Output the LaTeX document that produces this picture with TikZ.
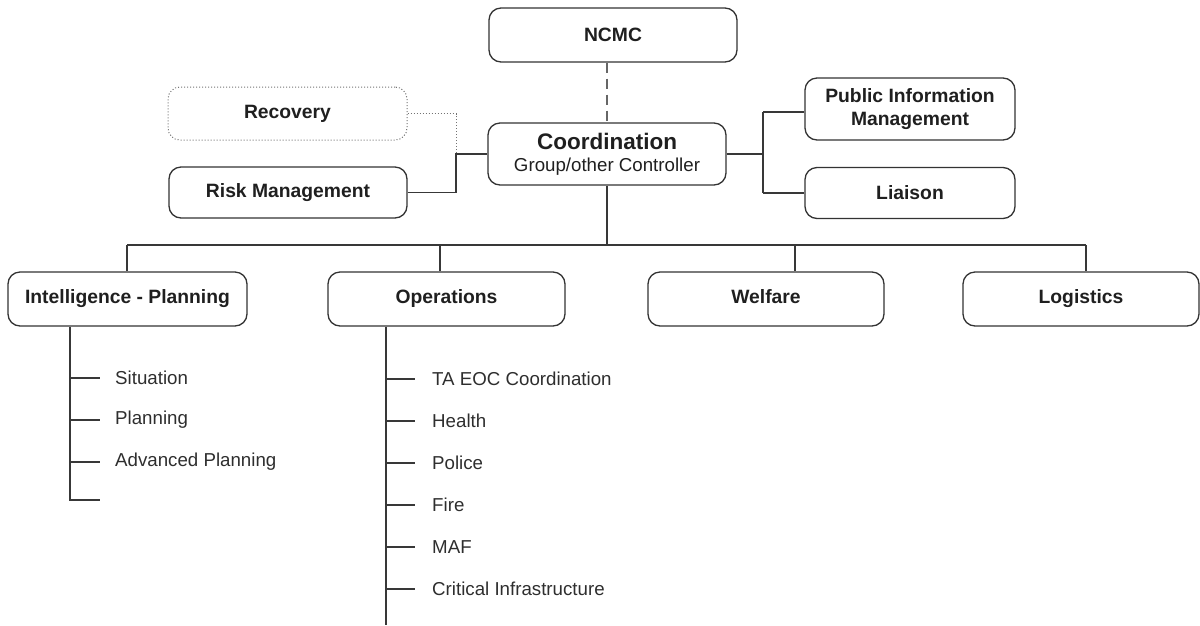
\documentclass[tikz,border=0pt]{standalone}
\usepackage{fontspec}
\setmainfont{Liberation Sans}
\begin{document}
\begin{tikzpicture}[x=1pt,y=-1pt,
  box/.style={draw=black!80, line width=1.3pt, rounded corners=12pt, align=center,
    font=\bfseries\fontsize{19.3}{23}\selectfont, text=black!88, inner sep=0pt},
  dotbox/.style={box, draw=black!55, line width=1pt, dotted},
  ln/.style={draw=black!78, line width=1.4pt},
  dln/.style={draw=black!55, line width=1pt, dotted},
  dashln/.style={draw=black!60, line width=1.4pt, dash pattern=on 10pt off 6pt},
  item/.style={anchor=west, font=\fontsize{18.7}{21}\selectfont, text=black!82, inner sep=0pt}]
\useasboundingbox (0,0) rectangle (1200,625);

% top boxes
\node[box, minimum width=248pt, minimum height=54pt] (ncmc) at (613,35) {NCMC};
\node[box, minimum width=238pt, minimum height=62pt] (coord) at (607,154)
  {{\fontsize{22.5}{24}\selectfont Coordination}\\[-1pt]{\mdseries\fontsize{18.7}{21}\selectfont Group/other Controller}};
\node[dotbox, minimum width=239pt, minimum height=53pt] (recov) at (287.5,113.5) {Recovery};
\node[box, minimum width=238pt, minimum height=51pt] (risk) at (288,192.5) {Risk Management};
\node[box, minimum width=210pt, minimum height=62pt] (pim) at (910,109) {Public Information\\Management};
\node[box, minimum width=210pt, minimum height=51pt] (liaison) at (910,193) {Liaison};

% bottom row
\node[box, minimum width=239pt, minimum height=54pt] (intel) at (127.5,299) {Intelligence - Planning};
\node[box, minimum width=237pt, minimum height=54pt] (ops) at (446.5,299) {Operations};
\node[box, minimum width=236pt, minimum height=54pt] (welf) at (766,299) {Welfare\vphantom{g}};
\node[box, minimum width=236pt, minimum height=54pt] (logi) at (1081,299) {Logistics};

% NCMC - Coordination
\coordinate (nc) at (607,0);
\draw[dashln] (nc |- ncmc.south) -- (nc |- coord.north);

% left side
\coordinate (lj) at (456,154);
\draw[dln] (recov.east) -| (lj);
\draw[ln] (risk.east) -| (lj) -- (coord.west);

% right side
\coordinate (rj) at (763,154);
\coordinate (rpim) at (763,112);
\coordinate (rlia) at (763,193);
\draw[ln] (coord.east) -- (rj);
\draw[ln] (rpim) -- (rlia);
\draw[ln] (rpim) -- (rpim -| pim.west);
\draw[ln] (rlia) -- (rlia -| liaison.west);

% bus
\coordinate (bus) at (607,245);
\coordinate (b1) at (127,245);
\coordinate (b2) at (440,245);
\coordinate (b3) at (795,245);
\coordinate (b4) at (1086,245);
\draw[ln] (coord.south) -- (bus);
\draw[ln] (b1) -- (b4);
\draw[ln] (b1) -- (b1 |- intel.north);
\draw[ln] (b2) -- (b2 |- ops.north);
\draw[ln] (b3) -- (b3 |- welf.north);
\draw[ln] (b4) -- (b4 |- logi.north);

% Intelligence sub-items
\coordinate (iv) at (70,0);
\coordinate (i1) at (70,378);
\coordinate (i2) at (70,420);
\coordinate (i3) at (70,462);
\coordinate (i4) at (70,500);
\draw[ln] (iv |- intel.south) -- (i4) -- ++(30,0);
\draw[ln] (i1) -- ++(30,0);
\draw[ln] (i2) -- ++(30,0);
\draw[ln] (i3) -- ++(30,0);
\node[item] (s1) at (115,378) {Situation};
\node[item] (s2) at (115,420) {Planning};
\node[item] (s3) at (115,462) {Advanced Planning};

% Operations sub-items
\coordinate (ov) at (386,0);
\coordinate (oend) at (386,625);
\draw[ln] (ov |- ops.south) -- (oend);
\foreach \y/\t [count=\k] in {379/TA EOC Coordination, 421/Health, 463/Police, 505/Fire, 547/MAF, 589/Critical Infrastructure} {
  \draw[ln] (386,\y) -- ++(29,0);
  \node[item] (o\k) at (432,\y) {\t};
}
\end{tikzpicture}
\end{document}
